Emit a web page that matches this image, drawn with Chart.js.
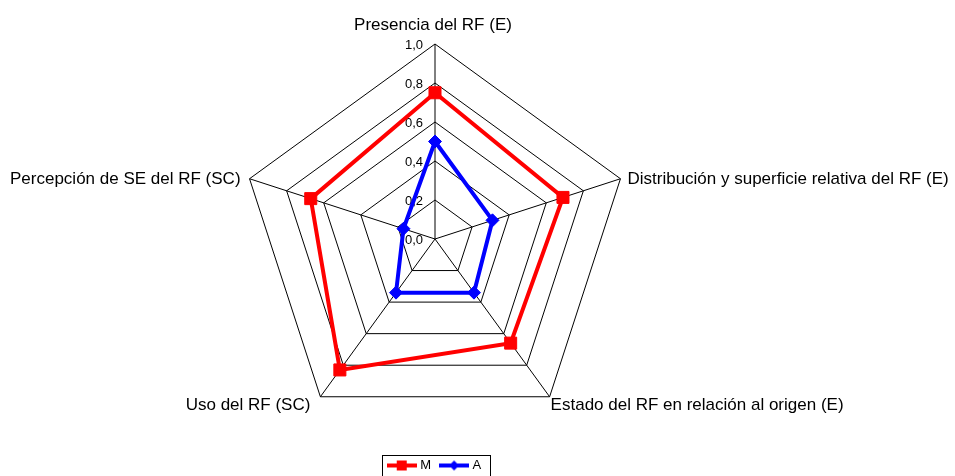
<!DOCTYPE html>
<html>
<head>
<meta charset="utf-8">
<script src="https://cdn.jsdelivr.net/npm/chart.js@4/dist/chart.umd.min.js"></script>
<style>
  html, body { margin: 0; padding: 0; background: #fff; }
  #wrap { width: 955px; height: 476px; }
</style>
</head>
<body>
<div id="wrap"><canvas id="myChart" width="955" height="476"></canvas></div>
<script>
var categories = [
  "Presencia del RF (E)",
  "Distribución y superficie relativa del RF (E)",
  "Estado del RF en relación al origen (E)",
  "Uso del RF (SC)",
  "Percepción de SE del RF (SC)"
];
var seriesM = [0.75, 0.69, 0.66, 0.83, 0.67];
var seriesA = [0.50, 0.31, 0.34, 0.34, 0.17];
var tickLabels = ["0,0", "0,2", "0,4", "0,6", "0,8", "1,0"];

// where each axis title sits relative to its outer vertex
var labelPlacement = [
  { dx: -2, dy: -14, align: "center", base: "alphabetic" },
  { dx: 7, dy: 1, align: "left", base: "middle" },
  { dx: 1, dy: 0, align: "left", base: "top" },
  { dx: -10, dy: 0, align: "right", base: "top" },
  { dx: -9, dy: 1, align: "right", base: "middle" }
];

// small line + marker pictures for the legend
function legendSwatch(color, shape) {
  var c = document.createElement("canvas");
  c.width = 30; c.height = 12;
  var g = c.getContext("2d");
  g.strokeStyle = color; g.fillStyle = color; g.lineWidth = 4;
  g.beginPath(); g.moveTo(0, 6); g.lineTo(30, 6); g.stroke();
  if (shape == "square") {
    g.fillRect(10, 1, 10, 10);
  } else {
    g.beginPath(); g.moveTo(15, 1); g.lineTo(20, 6); g.lineTo(15, 11); g.lineTo(10, 6); g.closePath(); g.fill();
  }
  return c;
}
var swatches = [legendSwatch("#ff0000", "square"), legendSwatch("#0000ff", "diamond")];

var legendDrop = 6;

var radarText = {
  id: "radarText",
  afterUpdate: function(chart) {
    // push the legend a little lower, to the bottom edge
    var lg = chart.legend;
    lg.top += legendDrop; lg.bottom += legendDrop;
    (lg.legendHitBoxes || []).forEach(function(h) { h.top += legendDrop; });
  },
  beforeDatasetsDraw: function(chart) {
    var scale = chart.scales.r;
    var ctx = chart.ctx;
    ctx.save();
    ctx.fillStyle = "#000";
    // value labels, left of the top spoke
    ctx.font = "13px 'Liberation Sans', Arial, sans-serif";
    ctx.textAlign = "right";
    ctx.textBaseline = "middle";
    scale.ticks.forEach(function(t, i) {
      var d = scale.getDistanceFromCenterForValue(t.value);
      ctx.fillText(tickLabels[i], scale.xCenter - 12, scale.yCenter - d + 1);
    });
    // axis titles
    ctx.font = "17px 'Liberation Sans', Arial, sans-serif";
    categories.forEach(function(name, i) {
      var p = scale.getPointPosition(i, scale.drawingArea);
      var pl = labelPlacement[i];
      ctx.textAlign = pl.align;
      ctx.textBaseline = pl.base;
      ctx.fillText(name, p.x + pl.dx, p.y + pl.dy);
    });
    ctx.restore();
  },
  afterDraw: function(chart) {
    var boxes = chart.legend.legendHitBoxes;
    if (!boxes || !boxes.length) return;
    var l = Infinity, r = -Infinity, cy = 0;
    boxes.forEach(function(h) {
      l = Math.min(l, h.left); r = Math.max(r, h.left + h.width);
      cy += (h.top + h.height / 2) / boxes.length;
    });
    var ctx = chart.ctx;
    ctx.save();
    ctx.strokeStyle = "#000";
    ctx.lineWidth = 1;
    ctx.strokeRect(Math.round(l - 8) + 0.5, Math.round(cy - 11) + 0.5, Math.round(r - l + 16), 21);
    ctx.restore();
  }
};

var ctx = document.getElementById("myChart");
var myChart = new Chart(ctx, {
  type: "radar",
  data: {
    labels: categories,
    datasets: [{
      label: "M",
      data: seriesM,
      borderColor: "#ff0000",
      backgroundColor: "#ff0000",
      borderWidth: 4,
      fill: false,
      pointStyle: "rect",
      pointRadius: 8.5,
      pointBorderWidth: 1,
      pointBackgroundColor: "#ff0000",
      pointBorderColor: "#ff0000"
    }, {
      label: "A",
      data: seriesA,
      borderColor: "#0000ff",
      backgroundColor: "#0000ff",
      borderWidth: 4,
      fill: false,
      pointStyle: "rectRot",
      pointRadius: 6.5,
      pointBorderWidth: 1,
      pointBackgroundColor: "#0000ff",
      pointBorderColor: "#0000ff"
    }]
  },
  options: {
    responsive: false,
    animation: false,
    layout: { padding: { left: 240, right: 324, top: 36, bottom: 0 } },
    elements: { line: { tension: 0 } },
    scales: {
      r: {
        min: 0,
        max: 1,
        ticks: { stepSize: 0.2, display: false },
        pointLabels: { display: false },
        grid: { color: "#000", lineWidth: 1 },
        angleLines: { color: "#000", lineWidth: 1 }
      }
    },
    plugins: {
      tooltip: { enabled: false },
      legend: {
        position: "bottom",
        labels: {
          usePointStyle: true,
          pointStyleWidth: 24,
          padding: 11,
          color: "#000",
          font: { family: "'Liberation Sans', Arial, sans-serif", size: 13 },
          generateLabels: function(chart) {
            return chart.data.datasets.map(function(ds, i) {
              return {
                text: ds.label,
                pointStyle: swatches[i],
                fillStyle: ds.borderColor,
                strokeStyle: ds.borderColor,
                lineWidth: 0,
                fontColor: "#000",
                datasetIndex: i,
                hidden: false
              };
            });
          }
        }
      }
    }
  },
  plugins: [radarText]
});
</script>
</body>
</html>
